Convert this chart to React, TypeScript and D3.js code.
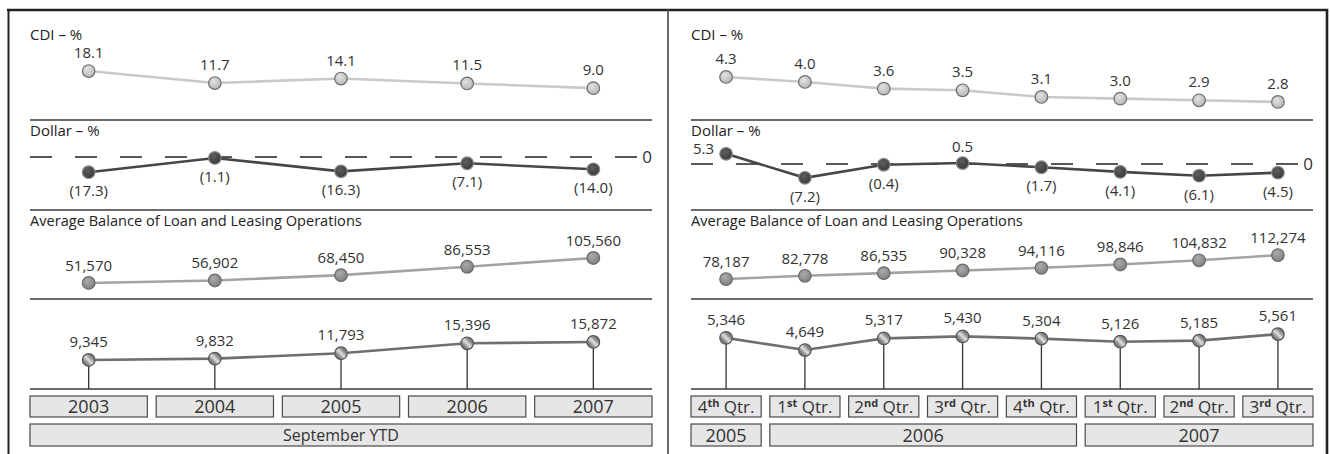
import React from "react";
import * as d3 from "d3";

// ---------- data ----------
const yearCats = ["2003", "2004", "2005", "2006", "2007"];
const yearGroupLabel = "September YTD";
const cdiYear = [18.1, 11.7, 14.1, 11.5, 9.0];
const dollarYear = [-17.3, -1.1, -16.3, -7.1, -14.0];
const loansYear = [51570, 56902, 68450, 86553, 105560];
const fourthYear = [9345, 9832, 11793, 15396, 15872];

const quarterNums = ["4", "1", "2", "3", "4", "1", "2", "3"];
const quarterSuffix = ["th", "st", "nd", "rd", "th", "st", "nd", "rd"];
const quarterYears = ["2005", "2006", "2006", "2006", "2006", "2007", "2007", "2007"];
const cdiQ = [4.3, 4.0, 3.6, 3.5, 3.1, 3.0, 2.9, 2.8];
const dollarQ = [5.3, -7.2, -0.4, 0.5, -1.7, -4.1, -6.1, -4.5];
const loansQ = [78187, 82778, 86535, 90328, 94116, 98846, 104832, 112274];
const fourthQ = [5346, 4649, 5317, 5430, 5304, 5126, 5185, 5561];

const titles = ["CDI – %", "Dollar – %", "Average Balance of Loan and Leasing Operations"];

// ---------- styling ----------
const FONT = "'Open Sans', 'DejaVu Sans', sans-serif";
const TXT = "#333";
const fmtPct = (v: number) => (v < 0 ? `(${Math.abs(v).toFixed(1)})` : v.toFixed(1));
const fmtNum = d3.format(",");

type PanelSpec = {
  key: string;
  x0: number;
  x1: number;
  pad: number;
  cats: string[];
  cdi: number[];
  dollar: number[];
  loans: number[];
  fourth: number[];
  cdiDom: [number, number];
  cdiRange: [number, number];
  dolDom: [number, number];
  dolRange: [number, number];
  loanDom: [number, number];
  loanRange: [number, number];
  fourthDom: [number, number];
  fourthRange: [number, number];
};

const SEP = [120, 210, 299, 389];

function Ball({ cx, cy, fill, stroke }: { cx: number; cy: number; fill: string; stroke: string }) {
  return <circle cx={cx} cy={cy} r={6.3} fill={fill} stroke={stroke} strokeWidth={1.2} />;
}

function Panel({ p, isQuarter }: { p: PanelSpec; isQuarter: boolean }) {
  const x = d3.scaleBand<string>().domain(p.cats).range([p.x0, p.x1]).paddingInner(p.pad).paddingOuter(0);
  const cxOf = (i: number) => (x(p.cats[i]) as number) + x.bandwidth() / 2;

  const yC = d3.scaleLinear().domain(p.cdiDom).range(p.cdiRange);
  const yD = d3.scaleLinear().domain(p.dolDom).range(p.dolRange);
  const yL = d3.scaleLinear().domain(p.loanDom).range(p.loanRange);
  const yF = d3.scaleLinear().domain(p.fourthDom).range(p.fourthRange);

  const line = (vals: number[], y: d3.ScaleLinear<number, number>) =>
    d3.line<number>().x((_, i) => cxOf(i)).y((v) => y(v))(vals) || "";

  const zeroY = yD(0);

  return (
    <g>
      {/* titles */}
      <text x={p.x0} y={40} fontSize={15} fill="#222">{titles[0]}</text>
      <text x={p.x0} y={136} fontSize={15} fill="#222">{titles[1]}</text>
      <text x={p.x0} y={226} fontSize={14.6} fill="#222">{titles[2]}</text>

      {/* separators */}
      {SEP.map((s) => (
        <line key={s} x1={p.x0} x2={p.x1} y1={s} y2={s} stroke="#3a3a3a" strokeWidth={1.4} />
      ))}

      {/* CDI */}
      <path d={line(p.cdi, yC)} fill="none" stroke="#c9c9c9" strokeWidth={2.6} />
      {p.cdi.map((v, i) => (
        <g key={i}>
          <Ball cx={cxOf(i)} cy={yC(v)} fill={`url(#gCdi)`} stroke="#6e6e6e" />
          <text x={cxOf(i)} y={yC(v) - 13} textAnchor="middle" fontSize={15} fill={TXT}>{fmtPct(v)}</text>
        </g>
      ))}

      {/* Dollar */}
      <line x1={p.x0} x2={p.x1 - 15} y1={zeroY} y2={zeroY} stroke="#222" strokeWidth={1.3} strokeDasharray="22,23" />
      <text x={p.x1} y={zeroY + 6} textAnchor="end" fontSize={17} fill={TXT}>0</text>
      <path d={line(p.dollar, yD)} fill="none" stroke="#464646" strokeWidth={2.6} />
      {p.dollar.map((v, i) => {
        const cx = cxOf(i);
        const cy = yD(v);
        let tx = cx, ty = cy + 24, anchor: "middle" | "end" = "middle";
        if (v >= 0) {
          if (i === 0) { tx = cx - 12; ty = cy; anchor = "end"; }
          else { ty = cy - 11; }
        }
        return (
          <g key={i}>
            <Ball cx={cx} cy={cy} fill={`url(#gDol)`} stroke="#8a8a8a" />
            <text x={tx} y={ty} textAnchor={anchor} fontSize={15} fill={TXT}>{fmtPct(v)}</text>
          </g>
        );
      })}

      {/* Loans */}
      <path d={line(p.loans, yL)} fill="none" stroke="#a3a3a3" strokeWidth={2.6} />
      {p.loans.map((v, i) => (
        <g key={i}>
          <Ball cx={cxOf(i)} cy={yL(v)} fill={`url(#gLoan)`} stroke="#6a6a6a" />
          <text x={cxOf(i)} y={yL(v) - 12} textAnchor="middle" fontSize={15} fill={TXT}>{fmtNum(v)}</text>
        </g>
      ))}

      {/* Fourth series with stems */}
      {p.fourth.map((v, i) => (
        <line key={"s" + i} x1={cxOf(i)} x2={cxOf(i)} y1={yF(v)} y2={SEP[3]} stroke="#333" strokeWidth={1.3} />
      ))}
      <path d={line(p.fourth, yF)} fill="none" stroke="#6f6f6f" strokeWidth={2.6} />
      {p.fourth.map((v, i) => (
        <g key={i}>
          <Ball cx={cxOf(i)} cy={yF(v)} fill={`url(#gStripe)`} stroke="#555" />
          <text x={cxOf(i)} y={yF(v) - 13} textAnchor="middle" fontSize={15} fill={TXT}>{fmtNum(v)}</text>
        </g>
      ))}

      {/* category boxes */}
      {p.cats.map((c, i) => (
        <g key={c}>
          <rect x={x(c)} y={396} width={x.bandwidth()} height={21} fill="#e6e6e6" stroke="#4a4a4a" strokeWidth={1.2} />
          {isQuarter ? (
            <text x={cxOf(i)} y={413} textAnchor="middle" fontSize={17} fill={TXT}>
              {quarterNums[i]}
              <tspan fontSize={11} fontWeight="bold" dy={-6}>{quarterSuffix[i]}</tspan>
              <tspan dy={6}> Qtr.</tspan>
            </text>
          ) : (
            <text x={cxOf(i)} y={413} textAnchor="middle" fontSize={18} fill={TXT}>{c}</text>
          )}
        </g>
      ))}

      {/* group boxes */}
      {isQuarter
        ? Array.from(new Set(quarterYears)).map((yr) => {
            const idx = quarterYears.map((q, i) => (q === yr ? i : -1)).filter((i) => i >= 0);
            const a = x(p.cats[idx[0]]) as number;
            const b = (x(p.cats[idx[idx.length - 1]]) as number) + x.bandwidth();
            return (
              <g key={yr}>
                <rect x={a} y={424} width={b - a} height={22} fill="#e6e6e6" stroke="#4a4a4a" strokeWidth={1.2} />
                <text x={(a + b) / 2} y={441.5} textAnchor="middle" fontSize={18} fill={TXT}>{yr}</text>
              </g>
            );
          })
        : (
          <g>
            <rect x={p.x0} y={424} width={p.x1 - p.x0} height={22} fill="#e6e6e6" stroke="#4a4a4a" strokeWidth={1.2} />
            <text x={(p.x0 + p.x1) / 2} y={441} textAnchor="middle" fontSize={16} fill={TXT}>{yearGroupLabel}</text>
          </g>
        )}
    </g>
  );
}

export default function App() {
  const left: PanelSpec = {
    key: "L", x0: 30, x1: 652, pad: 0.07, cats: yearCats,
    cdi: cdiYear, dollar: dollarYear, loans: loansYear, fourth: fourthYear,
    cdiDom: [0, 30], cdiRange: [105, 48.75],
    dolDom: [-20, 5], dolRange: [174.6, 152.6],
    loanDom: [40000, 120000], loanRange: [288.3, 251.3],
    fourthDom: [8000, 18000], fourthRange: [363.7, 336.1],
  };
  const qCats = quarterNums.map((n, i) => `${n}${quarterSuffix[i]} ${quarterYears[i]}`);
  const right: PanelSpec = {
    key: "R", x0: 691, x1: 1313, pad: 0.11, cats: qCats,
    cdi: cdiQ, dollar: dollarQ, loans: loansQ, fourth: fourthQ,
    cdiDom: [2, 5], cdiRange: [115.3, 65.3],
    dolDom: [-10, 10], dolRange: [183.2, 144.8],
    loanDom: [70000, 120000], loanRange: [284.8, 249.6],
    fourthDom: [4000, 6000], fourthRange: [361.4, 326.4],
  };

  return (
    <svg width={1330} height={454} style={{ position: "absolute", left: 0, top: 0, background: "#fff" }} fontFamily={FONT}>
      <defs>
        <radialGradient id="gCdi" cx="40%" cy="35%" r="70%">
          <stop offset="0%" stopColor="#e2e2e2" />
          <stop offset="100%" stopColor="#b4b4b4" />
        </radialGradient>
        <radialGradient id="gDol" cx="40%" cy="35%" r="70%">
          <stop offset="0%" stopColor="#5e5e5e" />
          <stop offset="100%" stopColor="#383838" />
        </radialGradient>
        <radialGradient id="gLoan" cx="40%" cy="35%" r="70%">
          <stop offset="0%" stopColor="#ababab" />
          <stop offset="100%" stopColor="#7e7e7e" />
        </radialGradient>
        <linearGradient id="gStripe" x1="0" y1="1" x2="1" y2="0">
          <stop offset="0%" stopColor="#5a5a5a" />
          <stop offset="30%" stopColor="#8a8a8a" />
          <stop offset="50%" stopColor="#e0e0e0" />
          <stop offset="70%" stopColor="#8a8a8a" />
          <stop offset="100%" stopColor="#5a5a5a" />
        </linearGradient>
      </defs>

      {/* frame */}
      <line x1={7} x2={1328} y1={10} y2={10} stroke="#222" strokeWidth={2.6} />
      <line x1={8.5} x2={8.5} y1={9} y2={454} stroke="#222" strokeWidth={2} />
      <line x1={668} x2={668} y1={9} y2={454} stroke="#444" strokeWidth={1.6} />
      <line x1={1327} x2={1327} y1={9} y2={454} stroke="#222" strokeWidth={2.6} />

      <Panel p={left} isQuarter={false} />
      <Panel p={right} isQuarter={true} />
    </svg>
  );
}
